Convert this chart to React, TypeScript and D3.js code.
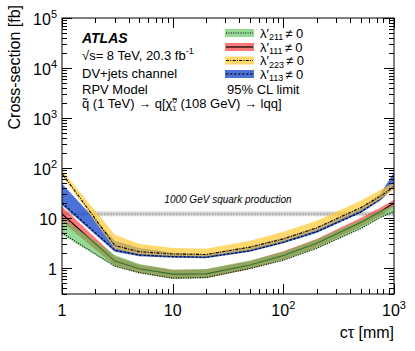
import React from 'react'
import * as d3 from 'd3'

// c*tau sampling points [mm]
const ctPoints = [1, 3, 5, 10, 20, 50, 100, 200, 500, 750, 1000]

// 95% CL limits [fb], band edges and central line per coupling
const green211Up = [10, 1.8, 1.2, 0.92, 0.95, 1.4, 2.1, 3.7, 9, 14, 18]
const green211Lo = [4.6, 1.05, 0.78, 0.6, 0.62, 0.95, 1.4, 2.4, 6, 10, 13]
const green211Line = [5, 1.08, 0.8, 0.62, 0.64, 0.97, 1.42, 2.45, 6.1, 10.2, 13.5]

const red111Up = [17, 1.7, 1.15, 0.92, 0.93, 1.38, 2.15, 3.8, 10, 16, 23]
const red111Lo = [8.5, 1.1, 0.8, 0.62, 0.63, 0.95, 1.45, 2.55, 6.6, 11, 17]
const red111Line = [12, 1.37, 0.96, 0.75, 0.76, 1.14, 1.77, 3.1, 8.1, 13.3, 19.8]

const yellow223Up = [90, 4.6, 3.0, 2.5, 2.4, 3.5, 5.3, 8.8, 22, 36, 50]
const yellow223Lo = [70, 2.4, 1.9, 1.75, 1.7, 2.3, 3.4, 5.6, 14, 24, 37]
const yellow223Line = [78, 2.8, 2.1, 1.9, 1.85, 2.6, 3.8, 6.3, 16, 27, 42]

const blue113Up = [48, 3.5, 2.5, 2.0, 1.9, 2.7, 4.0, 6.5, 16, 30, 82]
const blue113Lo = [18, 2.1, 1.7, 1.6, 1.55, 2.1, 3.1, 5.0, 12.5, 22, 40]
const blue113Line = [20, 2.25, 1.8, 1.68, 1.63, 2.2, 3.25, 5.3, 13, 24, 45]

// 1000 GeV squark production cross-section and its uncertainty
const squarkXsec = 12
const squarkBand = [10.8, 13.5]

const xTickLabels = ['1', '10', '10^2', '10^3']
const yTickLabels = ['1', '10', '10^2', '10^3', '10^4', '10^5']

const series = [
  { key: '111', up: red111Up, lo: red111Lo, line: red111Line, fill: '#ff3030', op: 0.65, dash: null },
  { key: '211', up: green211Up, lo: green211Lo, line: green211Line, fill: '#4fc24f', op: 0.6, dash: '1,1.4' },
  { key: '113', up: blue113Up, lo: blue113Lo, line: blue113Line, fill: '#1f4fd0', op: 0.8, dash: '2.5,1.5' },
  { key: '223', up: yellow223Up, lo: yellow223Lo, line: yellow223Line, fill: '#ffc830', op: 0.7, dash: '3,1.3,1,1.3' }
]

const legendOrder = ['211', '111', '223', '113']

const W = 415
const H = 351
const left = 62
const right = 394
const top = 18
const bottom = 294

const font = 'Liberation Sans, Arial, Helvetica, sans-serif'

function PowLabel ({ label, x, y, anchor }) {
  const parts = label.split('^')
  return (
    <text x={x} y={y} textAnchor={anchor} fontSize={16} fontFamily={font}>
      {parts[0]}
      {parts[1] && <tspan dy={-7} fontSize={11}>{parts[1]}</tspan>}
    </text>
  )
}

export default function App () {
  const x = d3.scaleLog().domain([1, 1000]).range([left, right])
  const y = d3.scaleLog().domain([0.3, 1e5]).range([bottom, top])

  const area = (up, lo) => d3.area()
    .x((d, i) => x(ctPoints[i]))
    .y0((d, i) => y(lo[i]))
    .y1((d, i) => y(up[i]))(up)
  const line = (vals) => d3.line()
    .x((d, i) => x(ctPoints[i]))
    .y((d) => y(d))(vals)

  const xTicks = x.ticks()
  const yTicks = y.ticks().filter(v => v >= 0.3 && v <= 1e5)
  const isMajor = (v) => Math.abs(Math.log10(v) - Math.round(Math.log10(v))) < 1e-9

  const legendRows = [33, 47, 60.5, 74]

  return (
    <svg width={W} height={H} style={{ position: 'absolute', left: 0, top: 0, background: 'white' }}>
      <defs>
        <clipPath id='plot'>
          <rect x={left} y={top} width={right - left} height={bottom - top} />
        </clipPath>
      </defs>

      <g clipPath='url(#plot)'>
        <rect x={left} width={right - left} y={y(squarkBand[1])}
          height={y(squarkBand[0]) - y(squarkBand[1])} fill='#d6d6d6' />
        <line x1={left} x2={right} y1={y(squarkXsec)} y2={y(squarkXsec)}
          stroke='#9a9a9a' strokeWidth={1.5} strokeDasharray='1.5,1.5' />
        {series.map(s => (
          <g key={s.key}>
            <path d={area(s.up, s.lo)} fill={s.fill} fillOpacity={s.op} />
            <path d={line(s.line)} fill='none' stroke='black' strokeWidth={1.1}
              strokeDasharray={s.dash || undefined} />
          </g>
        ))}
      </g>

      <text x={228} y={203} textAnchor='middle' fontSize={10} fontStyle='italic' fontFamily={font}>
        1000 GeV squark production
      </text>

      {/* frame and ticks */}
      <rect x={left} y={top} width={right - left} height={bottom - top} fill='none' stroke='black' strokeWidth={1} />
      {xTicks.map((v, i) => {
        const len = isMajor(v) ? 10 : 5
        const px = Math.round(x(v)) + 0.5
        return (
          <g key={'xt' + i} stroke='black' strokeWidth={1}>
            <line x1={px} x2={px} y1={bottom} y2={bottom - len} />
            <line x1={px} x2={px} y1={top} y2={top + len} />
          </g>
        )
      })}
      {yTicks.map((v, i) => {
        const len = isMajor(v) ? 10 : 5
        const py = Math.round(y(v)) + 0.5
        return (
          <g key={'yt' + i} stroke='black' strokeWidth={1}>
            <line x1={left} x2={left + len} y1={py} y2={py} />
            <line x1={right} x2={right - len} y1={py} y2={py} />
          </g>
        )
      })}

      {xTickLabels.map((l, i) => (
        <PowLabel key={'xl' + i} label={l} x={x(Math.pow(10, i))} y={316} anchor='middle' />
      ))}
      {yTickLabels.map((l, i) => (
        <PowLabel key={'yl' + i} label={l} x={57} y={y(Math.pow(10, i)) + 7} anchor='end' />
      ))}

      <text x={394} y={338} textAnchor='end' fontSize={16} fontFamily={font}>cτ [mm]</text>
      <text transform='translate(20,5) rotate(-90)' textAnchor='end' fontSize={16} fontFamily={font}>
        Cross-section [fb]
      </text>

      {/* labels */}
      <g fontFamily={font}>
        <text x={82} y={43} fontSize={14} fontWeight='bold' fontStyle='italic'>ATLAS</text>
        <text x={82} y={60} fontSize={13}>
          √s= 8 TeV, 20.3 fb<tspan dy={-6} fontSize={9}>-1</tspan>
        </text>
        <text x={82} y={77.5} fontSize={13}>DV+jets channel</text>
        <text x={82} y={94} fontSize={13}>RPV Model</text>
        <text x={82} y={108} fontSize={13}>
          q̃ (1 TeV) → q[χ̃<tspan dy={-5} fontSize={8}>0</tspan>
          <tspan dx={-4.5} dy={8} fontSize={8}>1</tspan>
          <tspan dy={-3}> (108 GeV) → lqq]</tspan>
        </text>
      </g>

      {/* legend */}
      <g fontFamily={font}>
        {legendOrder.map((k, i) => {
          const s = series.find(d => d.key === k)
          const cy = legendRows[i]
          return (
            <g key={'lg' + k}>
              <rect x={225} y={cy - 4} width={29} height={8} fill={s.fill} fillOpacity={s.op} />
              <line x1={226} x2={253} y1={cy} y2={cy} stroke='black' strokeWidth={1.2}
                strokeDasharray={s.dash || undefined} />
              <text x={260} y={cy + 4.5} fontSize={13}>
                λ′<tspan dy={2.5} fontSize={9}>{k}</tspan>
                <tspan dx={2} dy={-2.5}>≠ 0</tspan>
              </text>
            </g>
          )
        })}
        <text x={227} y={93.5} fontSize={13}>95% CL limit</text>
      </g>
    </svg>
  )
}
